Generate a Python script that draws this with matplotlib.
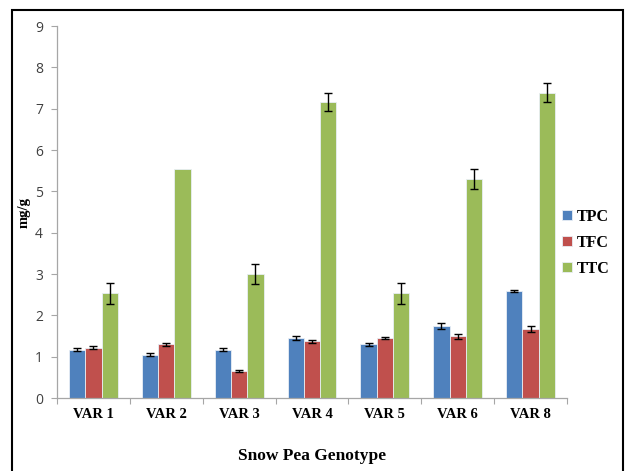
import matplotlib
matplotlib.use("Agg")
import matplotlib.pyplot as plt
import numpy as np
from matplotlib.patches import Rectangle

categories = ["VAR 1", "VAR 2", "VAR 3", "VAR 4", "VAR 5", "VAR 6", "VAR 8"]
series_names = ["TPC", "TFC", "TTC"]
tpc = [1.17, 1.05, 1.17, 1.45, 1.30, 1.74, 2.59]
tfc = [1.22, 1.30, 0.65, 1.37, 1.45, 1.49, 1.66]
ttc = [2.53, 5.53, 3.00, 7.16, 2.53, 5.30, 7.39]
tpc_err = [0.04, 0.04, 0.04, 0.04, 0.03, 0.07, 0.03]
tfc_err = [0.04, 0.04, 0.02, 0.04, 0.03, 0.06, 0.07]
ttc_err = [0.25, 0.0, 0.25, 0.22, 0.25, 0.25, 0.22]
colors = ["#4F81BD", "#C0504D", "#9BBB59"]

fig = plt.figure(figsize=(6.25, 4.71), dpi=100)
ax = fig.add_axes([57/625, 73/471, 510/625, 372/471])

serif = "Liberation Serif"
sans = "Open Sans"

x = np.arange(len(categories))
w = 0.223
values = [tpc, tfc, ttc]
errs = [tpc_err, tfc_err, ttc_err]
for i, (vals, er, c, name) in enumerate(zip(values, errs, colors, series_names)):
    pos = x + (i - 1) * w
    ax.bar(pos, vals, width=w, color=c, edgecolor="#e8eef5", linewidth=0.6, label=name, zorder=2)
    e = np.array(er)
    mask = e > 0
    ax.errorbar(pos[mask], np.array(vals)[mask], yerr=e[mask], fmt="none", ecolor="black",
                elinewidth=1.0, capsize=3, capthick=1.0, zorder=3)

ax.set_xlim(-0.5, len(categories) - 0.5)
ax.set_ylim(0, 9)
ax.set_yticks(range(0, 10))
ax.set_xticks(np.arange(-0.5, len(categories), 1.0), minor=False)
ax.set_xticklabels([])
ax.set_xticks(x, minor=True)
ax.set_xticklabels(categories, minor=True, fontfamily=serif, fontweight="bold", fontsize=10.5)
ax.tick_params(axis="x", which="minor", length=0, pad=7)
ax.tick_params(axis="x", which="major", length=4, color="#a6a6a6", width=0.8)
ax.tick_params(axis="y", length=4, color="#a6a6a6", width=0.8, labelcolor="#404040", labelsize=10, pad=6)
for lab in ax.get_yticklabels():
    lab.set_fontfamily(sans)

for s in ["top", "right"]:
    ax.spines[s].set_visible(False)
for s in ["left", "bottom"]:
    ax.spines[s].set_color("#a6a6a6")
    ax.spines[s].set_linewidth(0.9)

ax.set_xlabel("Snow Pea Genotype", fontfamily=serif, fontweight="bold", fontsize=12.5, labelpad=20)
ax.set_ylabel("mg/g", fontfamily=serif, fontweight="bold", fontsize=10.5, labelpad=3)

leg = fig.legend(loc="upper left", bbox_to_anchor=(562/625, 1 - 209/471), frameon=False,
                 prop={"family": serif, "weight": "bold", "size": 11.5},
                 handlelength=0.6, handleheight=0.6, handletextpad=0.3, labelspacing=0.62,
                 borderaxespad=0, borderpad=0)

fig.patches.append(Rectangle((12/625, -0.01), 611/625, 1 - 10/471 + 0.01, transform=fig.transFigure,
                             fill=False, edgecolor="black", linewidth=1.5))

fig.savefig("out.png", dpi=100)
